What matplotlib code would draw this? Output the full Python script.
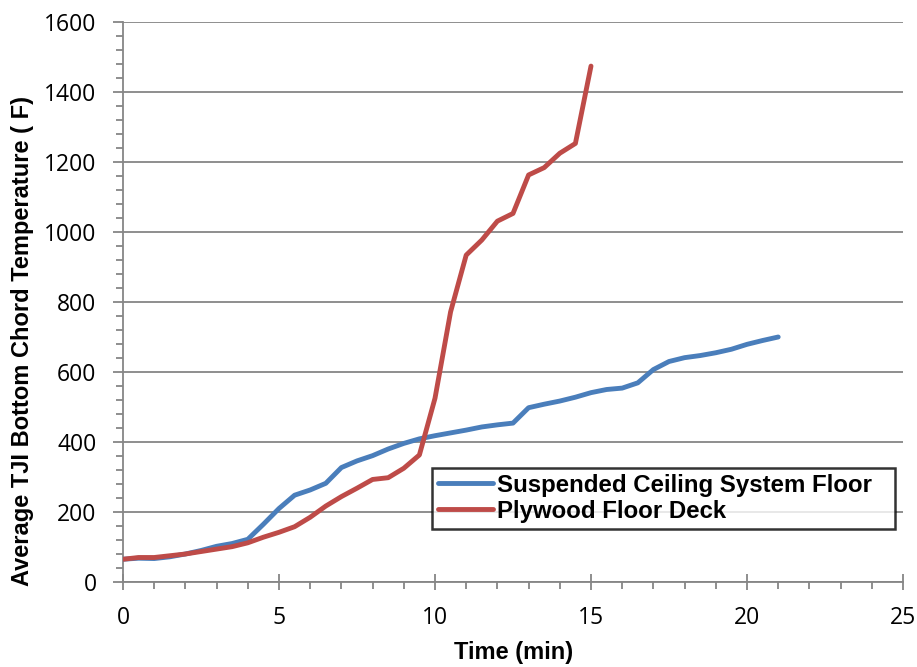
import matplotlib
matplotlib.use('Agg')
import matplotlib.pyplot as plt
from matplotlib.ticker import MultipleLocator

# tiempo en minutos (cada 0.5 min)
t_techo = [0, 0.5, 1, 1.5, 2, 2.5, 3, 3.5, 4, 4.5, 5, 5.5, 6, 6.5, 7, 7.5, 8, 8.5,
           9, 9.5, 10, 10.5, 11, 11.5, 12, 12.5, 13, 13.5, 14, 14.5, 15, 15.5, 16,
           16.5, 17, 17.5, 18, 18.5, 19, 19.5, 20, 20.5, 21]
temp_techo = [65, 68, 67, 72, 80, 90, 102, 110, 122, 165, 210, 248, 263, 282, 327,
              346, 361, 380, 396, 409, 418, 426, 434, 443, 449, 454, 498, 508, 517,
              528, 541, 550, 554, 569, 607, 630, 641, 647, 655, 665, 679, 690, 700]

t_ply = [0, 0.5, 1, 1.5, 2, 2.5, 3, 3.5, 4, 4.5, 5, 5.5, 6, 6.5, 7, 7.5, 8, 8.5,
         9, 9.5, 10, 10.5, 11, 11.5, 12, 12.5, 13, 13.5, 14, 14.5, 15]
temp_ply = [65, 70, 70, 75, 80, 87, 94, 101, 112, 128, 142, 158, 185, 217, 244, 268,
            293, 298, 325, 363, 525, 772, 934, 977, 1031, 1053, 1163, 1184, 1225,
            1253, 1474]

etiquetas = ['Suspended Ceiling System Floor', 'Plywood Floor Deck']
gris = '#868686'
bold_font = ['Liberation Sans', 'DejaVu Sans']
tick_font = 'Open Sans'

fig = plt.figure(figsize=(9.17, 6.67), dpi=100)
fig.patch.set_facecolor('#ffffff')
ax = fig.add_axes([123/917, 85/667, 780/917, 560/667])

ax.plot(t_techo, temp_techo, color='#4a7ebb', linewidth=3.5, label=etiquetas[0],
        solid_capstyle='round', zorder=3)
ax.plot(t_ply, temp_ply, color='#be4b48', linewidth=3.5, label=etiquetas[1],
        solid_capstyle='round', zorder=3)

ax.set_xlim(0, 25)
ax.set_ylim(0, 1600)
ax.xaxis.set_major_locator(MultipleLocator(5))
ax.xaxis.set_minor_locator(MultipleLocator(1))
ax.yaxis.set_major_locator(MultipleLocator(200))
ax.yaxis.set_minor_locator(MultipleLocator(40))

ax.spines['top'].set_visible(False)
ax.spines['right'].set_visible(False)
for s in ['left', 'bottom']:
    ax.spines[s].set_color(gris)
    ax.spines[s].set_linewidth(1.3)

ax.grid(axis='y', which='major', color=gris, linewidth=1.3, zorder=1)
ax.set_axisbelow(True)

ax.tick_params(axis='x', which='major', direction='inout', length=12, width=1.3,
               color=gris, pad=11)
ax.tick_params(axis='x', which='minor', direction='out', length=5, width=1.3, color=gris)
ax.tick_params(axis='y', which='major', direction='out', length=7, width=1.3,
               color=gris, pad=12)
ax.tick_params(axis='y', which='minor', direction='out', length=5, width=1.3, color=gris)
for lab in ax.get_xticklabels() + ax.get_yticklabels():
    lab.set_fontfamily(tick_font)
    lab.set_fontsize(16.5)

ax.set_xlabel('Time (min)', fontsize=17, fontweight='bold', family=bold_font, va='center')
ax.xaxis.set_label_coords(0.501, -0.125)
ax.set_ylabel('Average TJI Bottom Chord Temperature ( F)', fontsize=17,
              fontweight='bold', family=bold_font, va='center')
ax.yaxis.set_label_coords(-0.129, 0.43)

leg = ax.legend(loc='upper left', bbox_to_anchor=(0.396, 0.091, 0.594, 0.113),
                mode='expand',
                prop={'family': bold_font, 'weight': 'bold', 'size': 17.3},
                frameon=True, fancybox=False, borderpad=0.25, labelspacing=0.12,
                handlelength=2.3, handletextpad=0.15, borderaxespad=0)
leg.get_frame().set_edgecolor('black')
leg.get_frame().set_linewidth(1.8)
leg.set_zorder(5)

fig.savefig('out.png', dpi=100)
